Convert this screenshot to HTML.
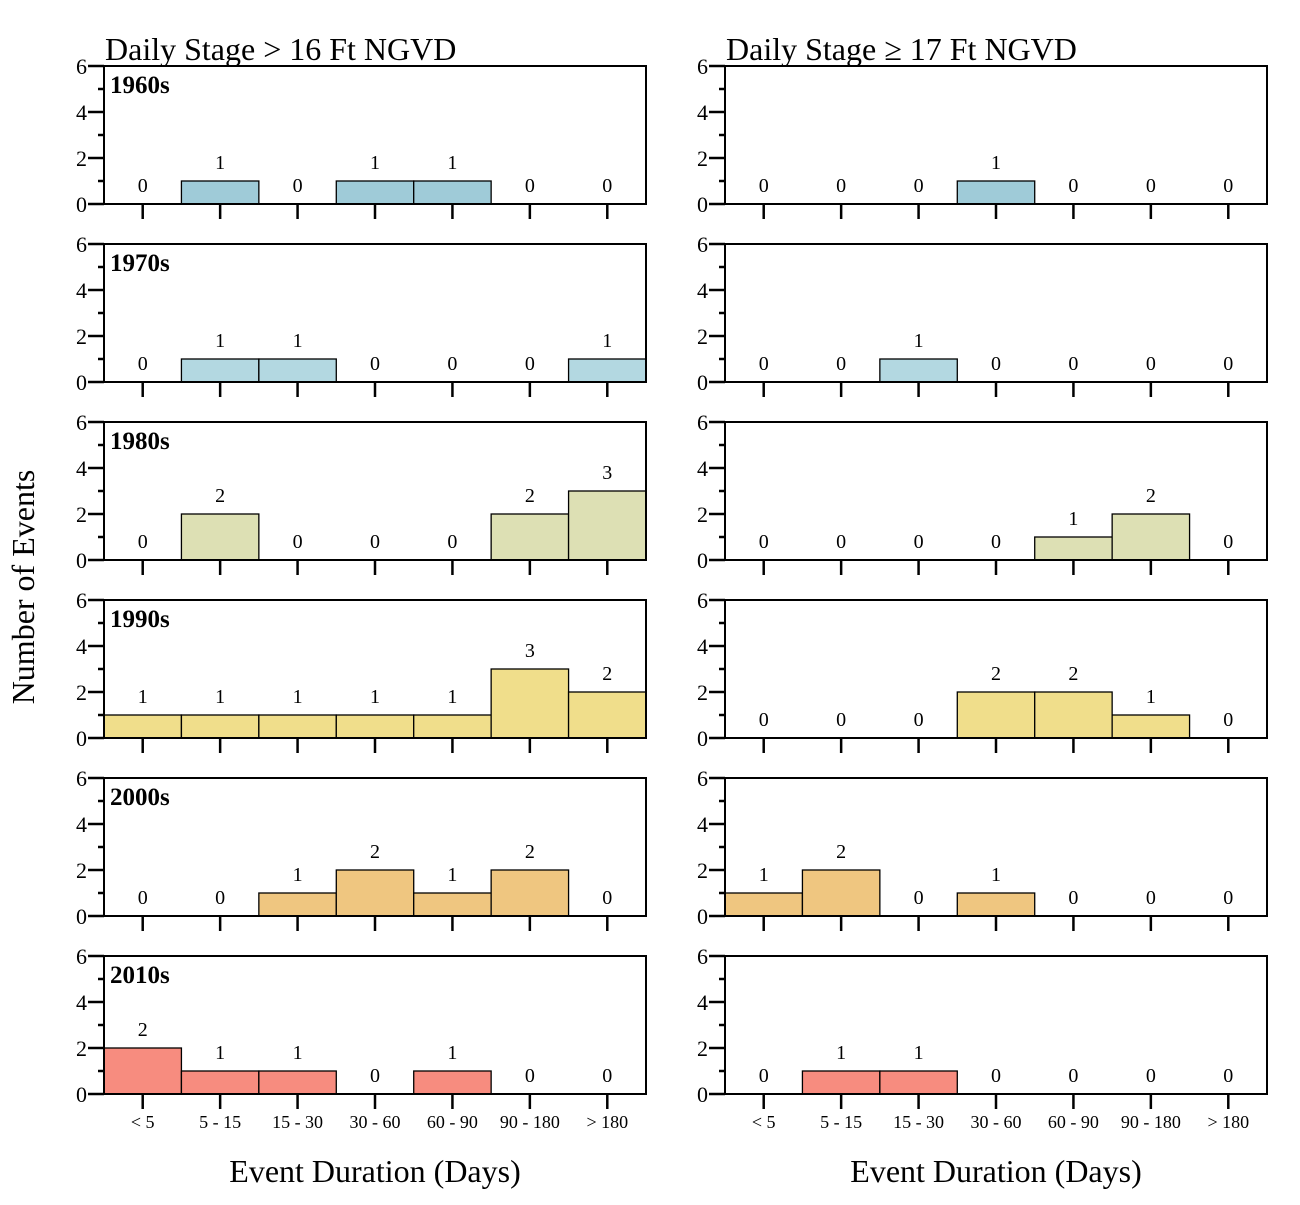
<!DOCTYPE html>
<html><head><meta charset="utf-8"><style>
html,body{margin:0;padding:0;background:#fff}
svg text{font-family:"Liberation Serif",serif;fill:#000}
</style></head><body>
<svg id="chart" width="1300" height="1200" xmlns="http://www.w3.org/2000/svg"></svg>
<script>
const categories = ["< 5","5 - 15","15 - 30","30 - 60","60 - 90","90 - 180","> 180"];
const decades = ["1960s","1970s","1980s","1990s","2000s","2010s"];
const colors = ["#9fcbd8","#b3d8e1","#dde0b4","#f0de8b","#efc680","#f78c7f"];
const yTicks = [0,2,4,6];
const left16 = [
 [0,1,0,1,1,0,0],
 [0,1,1,0,0,0,1],
 [0,2,0,0,0,2,3],
 [1,1,1,1,1,3,2],
 [0,0,1,2,1,2,0],
 [2,1,1,0,1,0,0]
];
const right17 = [
 [0,0,0,1,0,0,0],
 [0,0,1,0,0,0,0],
 [0,0,0,0,1,2,0],
 [0,0,0,2,2,1,0],
 [1,2,0,1,0,0,0],
 [0,1,1,0,0,0,0]
];
const titles = ["Daily Stage > 16 Ft NGVD","Daily Stage \u2265 17 Ft NGVD"];

const svg = document.getElementById('chart');
const NS = "http://www.w3.org/2000/svg";
function mk(tag, attrs, parent){
  const e = document.createElementNS(NS, tag);
  for (const k in attrs) e.setAttribute(k, attrs[k]);
  (parent||svg).appendChild(e);
  return e;
}
const panelW = 542, panelH = 138;
const colX = [104, 725];
const rowTop = [66, 244, 422, 600, 778, 956];
function yScale(top, v){ return top + panelH - v * (panelH/6); }
function xScale(x0, i){ return x0 + i * panelW / categories.length; }

[left16, right17].forEach((data, c) => {
  const x0 = colX[c];
  const t = mk('text', {x: x0+1, y: 60, 'font-size': 32});
  t.textContent = titles[c];
  
  
  data.forEach((vals, r) => {
    const top = rowTop[r];
    const g = mk('g', {});
    
    
    const bw = panelW / categories.length;
    vals.forEach((v, i) => {
      const xl = xScale(x0, i);
      if (v > 0) {
        const rect = mk('rect', {x: xl, y: yScale(top, v), width: bw, height: yScale(top,0)-yScale(top,v), fill: colors[r], stroke: '#000', 'stroke-width': 1.3}, g);
        
        
      }
      const lbl = mk('text', {x: xl + bw/2, y: yScale(top, v) - 12, 'font-size': 20, 'text-anchor': 'middle'}, g);
      lbl.textContent = v;
      
      
      mk('line', {x1: xl + bw/2, x2: xl + bw/2, y1: top+panelH, y2: top+panelH+15, stroke: '#000', 'stroke-width': 2.5}, g);
      if (r === 5) {
        const cl = mk('text', {x: xl + bw/2, y: top+panelH+34, 'font-size': 18, 'text-anchor': 'middle'}, g);
        cl.textContent = categories[i];
        
        
      }
    });
    mk('rect', {x: x0, y: top, width: panelW, height: panelH, fill: 'none', stroke: '#000', 'stroke-width': 2}, g);
    for (let v = 0; v <= 6; v++) {
      const y = yScale(top, v);
      const major = v % 2 === 0;
      mk('line', {x1: x0 - (major ? 16 : 6), x2: x0, y1: y, y2: y, stroke: '#000', 'stroke-width': 2.5}, g);
    }
    yTicks.forEach(v => {
      const tl = mk('text', {x: x0 - 17, y: yScale(top, v) + 8, 'font-size': 22, 'text-anchor': 'end'}, g);
      tl.textContent = v;
      
      
    });
    if (c === 0) {
      const d = mk('text', {x: x0 + 6, y: top + 27, 'font-size': 25, 'font-weight': 'bold'}, g);
      d.textContent = decades[r];
      
      
    }
  });
  const xt = mk('text', {x: x0 + panelW/2, y: 1182, 'font-size': 32, 'text-anchor': 'middle'});
  xt.textContent = 'Event Duration (Days)';
  
  
});
const yt = mk('text', {x: 0, y: 0, 'font-size': 32, 'text-anchor': 'middle', transform: 'translate(34,587) rotate(-90)'});
yt.textContent = 'Number of Events';


</script>
</body></html>
